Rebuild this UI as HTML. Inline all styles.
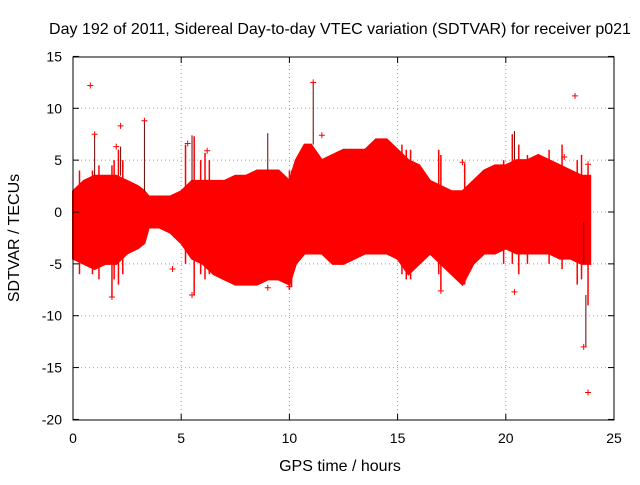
<!DOCTYPE html>
<html><head><meta charset="utf-8"><style>
body{margin:0;background:#fff;}
svg text{font-family:"Liberation Sans",sans-serif;font-size:16px;fill:#000;}
svg text.tk{font-size:14px;}
</style></head><body>
<svg id="c" width="640" height="480" xmlns="http://www.w3.org/2000/svg">
<text x="340" y="34" text-anchor="middle">Day 192 of 2011, Sidereal Day-to-day VTEC variation (SDTVAR) for receiver p021</text>
<text x="340" y="471" text-anchor="middle">GPS time / hours</text>
<text transform="translate(19,238) rotate(-90)" text-anchor="middle">SDTVAR / TECUs</text>
<g id="grid"></g><g id="band"></g><g id="pts"></g><g id="axes"></g>
</svg>
<script>
const times=[0,0.5,1,1.5,2,2.5,3,3.3,3.5,4,4.5,5,5.5,6,6.5,7,7.5,8,8.5,9,9.5,10,10.3,10.7,11,11.5,12,12.5,13,13.5,14,14.5,15,15.5,16,16.5,17,17.5,18,18.5,19,19.5,20,20.5,21,21.5,22,22.5,23,23.5,23.9];
const upper=[2,3,3.5,3.5,3.5,3,2.5,2,1.5,1.5,1.5,2,3,3,3,3,3.5,3.5,4,4,4,3,5,6.5,6.5,5,5.5,6,6,6,7,7,6,5,4.5,3,2.5,2,2,3,4,4.5,4.5,5,5,5.5,5,4.5,4,3.5,3.5];
const lower=[-4.5,-5,-5.5,-5,-5,-4,-3.5,-3,-1.5,-1.5,-2,-3,-4.5,-5,-6,-6.5,-7,-7,-7,-6.5,-6.5,-7,-5,-4,-4,-4,-5,-5,-4.5,-4,-4,-4,-4.5,-6,-5,-4,-5,-6,-7,-5,-4,-4,-3.5,-4,-4,-4,-4,-4.5,-4.5,-5,-5];
const outT=[0.8,2.2,3.3,11.1,11.5,23.2,23.8,23.6,20.4,17,5.5,1.8,10,9,4.6,18,23.8,22.7,1.0,2.0,5.3,6.2];
const outV=[12.2,8.3,8.8,12.5,7.4,11.2,-17.4,-13,-7.7,-7.6,-8,-8.2,-7.2,-7.3,-5.5,4.8,4.6,5.3,7.5,6.3,6.6,5.9];
const spikeT=[1.0,2.2,3.3,9.0,11.1,23.6,23.7,20.4,5.5];
const spikeLo=[3.5,3.5,2,4,6.5,-5,-13,5,3];
const spikeHi=[7.5,6.3,8.8,7.6,12.5,-1,-8,7.8,7.4];
const redSpikeT=[0.3,0.9,1.2,1.8,1.9,2.1,2.3,5.2,5.6,5.9,6.1,6.3,10.0,10.1,15.2,15.4,15.6,16.9,17.0,18.1,19.9,20.3,20.6,21.0,22.0,22.6,23.3,23.5,23.8];
const redSpikeLo=[-6,-6,-6.5,-8.2,-6.5,-7,-6,-5,-8,-6,-6.5,-6,-7.5,-7.2,-6,-6.5,-6.5,-6,-7.5,-7,-5,-5,-6,-5,-5,-5.5,-7,-6.5,-9];
const redSpikeHi=[4,4,4.5,4.5,5,6,5,6.5,7.3,5,5.7,5,4,4,6.5,6,6,6,5.5,4.7,5,7.5,6.5,5.5,6,6.5,5,5.5,4.5];
const xTicks=[0,5,10,15,20,25];
const yTicks=[-20,-15,-10,-5,0,5,10,15];
const X=v=>73+v*(614-73)/25, Y=v=>212-v*(420-57)/35;
const NS="http://www.w3.org/2000/svg";
function mk(t,a,p){const e=document.createElementNS(NS,t);for(const k in a)e.setAttribute(k,a[k]);p.appendChild(e);return e;}
const g=document.getElementById('grid'),ax=document.getElementById('axes'),band=document.getElementById('band'),pts=document.getElementById('pts');
xTicks.forEach(t=>{
 if(t>0&&t<25){const l=mk('line',{x1:X(t),x2:X(t),y1:57,y2:420,stroke:'#a0a0a0','stroke-dasharray':'1,3'},g);
 
 }
 mk('line',{x1:X(t),x2:X(t),y1:420,y2:414,stroke:'#000'},ax);
 mk('line',{x1:X(t),x2:X(t),y1:57,y2:63,stroke:'#000'},ax);
 const tx=mk('text',{x:X(t),y:443,'text-anchor':'middle','class':'tk'},ax);tx.textContent=t;
 
 
});
yTicks.forEach(t=>{
 if(t>-20&&t<15){const l=mk('line',{x1:73,x2:614,y1:Y(t),y2:Y(t),stroke:'#a0a0a0','stroke-dasharray':'1,3'},g);
 
 }
 mk('line',{x1:73,x2:79,y1:Y(t),y2:Y(t),stroke:'#000'},ax);
 mk('line',{x1:614,x2:608,y1:Y(t),y2:Y(t),stroke:'#000'},ax);
 const tx=mk('text',{x:62,y:Y(t)+5,'text-anchor':'end','class':'tk'},ax);tx.textContent=t;
 
 
});
const fr=mk('rect',{x:73,y:57,width:541,height:363,fill:'none',stroke:'#000'},ax);


let d=times.map((t,i)=>(i?'L':'M')+X(t)+','+Y(upper[i])).join('');
for(let i=times.length-1;i>=0;i--)d+='L'+X(times[i])+','+Y(lower[i]);
const p=mk('path',{d:d+'Z',fill:'#ff0000',stroke:'#ff0000','stroke-width':2},band);


redSpikeT.forEach((t,i)=>{const l=mk('line',{x1:X(t),x2:X(t),y1:Y(redSpikeLo[i]),y2:Y(redSpikeHi[i]),stroke:'#ff0000','stroke-width':1.5},band);
 
 });
spikeT.forEach((t,i)=>{const l=mk('line',{x1:X(t),x2:X(t),y1:Y(spikeLo[i]),y2:Y(spikeHi[i]),stroke:'#600','stroke-width':1},pts);
 
 });
outT.forEach((t,i)=>{const x=X(t),y=Y(outV[i]);
 const e=mk('path',{d:`M${x-3},${y}H${x+3}M${x},${y-3}V${y+3}`,stroke:'#ff0000','stroke-width':1},pts);
 
 });
</script>
</body></html>
